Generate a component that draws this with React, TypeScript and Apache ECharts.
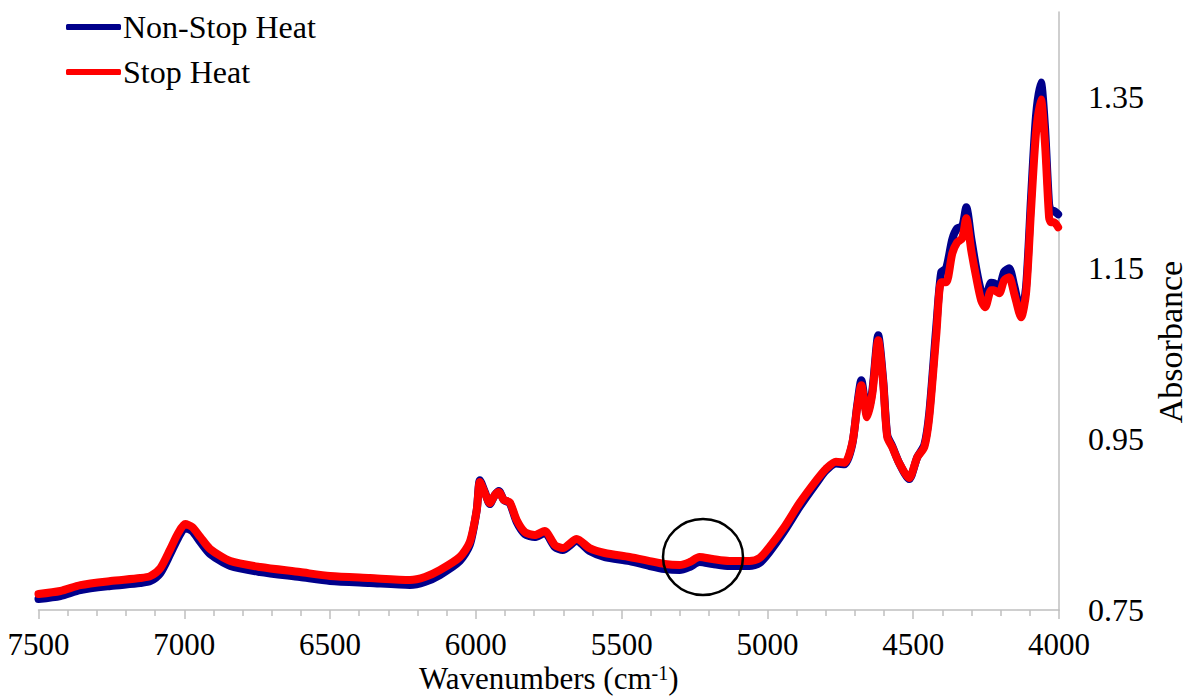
import React, { useEffect, useRef } from "react";
import * as echarts from "echarts";

const wavenumbers = [
  7500, 7425, 7356, 7253, 7151, 7116, 7082, 7048, 7021, 6997, 6973, 6945, 6911, 6842, 6740, 6603, 6500, 6363, 6226, 6175,
  6123, 6055, 6021, 5997, 5986, 5969, 5952, 5935, 5921, 5904, 5884, 5860, 5832, 5798, 5764, 5729, 5702, 5654, 5610, 5558,
  5473, 5404, 5353, 5301, 5267, 5233, 5188, 5130, 5062, 5027, 4993, 4942, 4890, 4832, 4800, 4765, 4735, 4709, 4692, 4678, 4658,
  4640, 4620, 4603, 4589, 4572, 4548, 4514, 4486, 4462, 4445, 4421, 4404, 4387, 4366, 4349, 4332, 4318, 4301, 4284, 4267,
  4253, 4233, 4223, 4205, 4188, 4171, 4154, 4130, 4113, 4096, 4079, 4062, 4048, 4034, 4027, 4017, 4003,
];

const nonStopHeat = [
  0.7629, 0.7664, 0.7734, 0.7781, 0.7816, 0.784, 0.7933, 0.8155, 0.8343, 0.846, 0.8424, 0.8296, 0.8155, 0.8015, 0.7945, 0.7886, 0.784, 0.7816, 0.7793, 0.7828,
  0.791, 0.8073, 0.826, 0.867, 0.902, 0.888, 0.874, 0.8845, 0.8892, 0.8787, 0.8752, 0.853, 0.8389, 0.8354, 0.84, 0.8237, 0.8202, 0.8307, 0.819, 0.812,
  0.8073, 0.8015, 0.798, 0.7968, 0.8003, 0.8061, 0.8038, 0.8015, 0.8015, 0.805, 0.8179, 0.8424, 0.8705, 0.8985, 0.913, 0.9215, 0.9205, 0.9441, 0.9898, 1.019, 0.9781,
  1.0073, 1.0716, 1.019, 0.9547, 0.9418, 0.9219, 0.9032, 0.9289, 0.943, 0.9804, 1.081, 1.1453, 1.15, 1.184, 1.1968, 1.199, 1.2214, 1.185, 1.15, 1.123,
  1.115, 1.133, 1.1325, 1.129, 1.146, 1.15, 1.13, 1.0975, 1.128, 1.232, 1.328, 1.3676, 1.315, 1.225, 1.2178, 1.217, 1.2132,
];

const stopHeat = [
  0.7687, 0.7722, 0.7792, 0.7839, 0.7874, 0.7898, 0.7991, 0.8213, 0.8401, 0.8506, 0.8471, 0.8354, 0.8213, 0.8073, 0.8003, 0.7944, 0.7898, 0.7874, 0.7851, 0.7886,
  0.7968, 0.812, 0.8295, 0.867, 0.8997, 0.8868, 0.8751, 0.8845, 0.888, 0.8787, 0.8763, 0.8553, 0.8412, 0.8377, 0.8424, 0.826, 0.8225, 0.833, 0.8225, 0.8167,
  0.812, 0.8073, 0.8038, 0.8026, 0.8061, 0.812, 0.8096, 0.8073, 0.8073, 0.8108, 0.8237, 0.8471, 0.8751, 0.902, 0.915, 0.9235, 0.9225, 0.9453, 0.9874, 1.0132, 0.9757,
  1.0038, 1.0658, 1.0155, 0.9523, 0.9406, 0.9219, 0.9044, 0.9289, 0.9406, 0.9757, 1.0716, 1.1336, 1.1336, 1.1675, 1.1804, 1.1851, 1.2085, 1.1711, 1.1395, 1.1126,
  1.1044, 1.1243, 1.1243, 1.1208, 1.136, 1.1395, 1.1208, 1.0927, 1.1208, 1.2178, 1.3079, 1.3477, 1.2962, 1.2096, 1.2038, 1.2038, 1.198,
];

const yTickValues = [0.75, 0.95, 1.15, 1.35];

const FONT = "Liberation Serif";

export default function App() {
  const ref = useRef<HTMLDivElement>(null);

  useEffect(() => {
    if (!ref.current) return;
    const chart = echarts.init(ref.current, null, { renderer: "svg" });
    const pairs = (vals: number[]) => wavenumbers.map((w, i) => [w, vals[i]]);
    chart.setOption({
      animation: false,
      backgroundColor: "#ffffff",
      textStyle: { fontFamily: FONT },
      grid: { left: 38.5, right: 129, top: 12, bottom: 86, outerBoundsMode: "none", containLabel: false },
      legend: {
        orient: "vertical",
        left: 61,
        top: 6,
        itemWidth: 55,
        itemHeight: 6,
        itemGap: 13,
        icon: "roundRect",
        textStyle: { fontFamily: FONT, fontSize: 32, color: "#000", lineHeight: 32, padding: [0, 0, 0, -3] },
        data: ["Non-Stop Heat", "Stop Heat"],
      },
      xAxis: {
        type: "value",
        min: 4000,
        max: 7500,
        interval: 500,
        inverse: true,
        axisLine: { show: true, lineStyle: { color: "#BFBFBF", width: 1.5 } },
        axisTick: { show: true, length: 9, lineStyle: { color: "#BFBFBF", width: 1.5 } },
        minorTick: { show: true, splitNumber: 5, length: 6, lineStyle: { color: "#BFBFBF", width: 1.5 } },
        splitLine: { show: false },
        axisLabel: {
          fontFamily: FONT,
          fontSize: 31,
          lineHeight: 30,
          color: "#000",
          margin: 19,
          formatter: (v: number) => String(v),
        },
        name: "{a|Wavenumbers (cm}{s|-1}{a|)}",
        nameLocation: "middle",
        nameGap: 53,
        nameMoveOverlap: false,
        nameTextStyle: {
          lineHeight: 30,
          rich: {
            a: { fontFamily: FONT, fontSize: 31, color: "#000", lineHeight: 30 },
            s: { fontFamily: FONT, fontSize: 20, color: "#000", lineHeight: 20, verticalAlign: "top" },
          },
        },
      },
      yAxis: {
        type: "value",
        position: "right",
        min: 0.75,
        max: 1.45,
        axisLine: { show: true, lineStyle: { color: "#BFBFBF", width: 1.5 } },
        axisTick: { show: false },
        splitLine: { show: false },
        axisLabel: {
          fontFamily: FONT,
          fontSize: 32,
          color: "#000",
          margin: 29,
          customValues: yTickValues,
          formatter: (v: number) => v.toFixed(2),
        },
      },
      series: [
        {
          name: "Non-Stop Heat",
          type: "line",
          data: pairs(nonStopHeat),
          showSymbol: false,
          smooth: 0.25,
          lineStyle: { color: "#00008B", width: 8, cap: "round", join: "round" },
          itemStyle: { color: "#00008B" },
        },
        {
          name: "Stop Heat",
          type: "line",
          data: pairs(stopHeat),
          showSymbol: false,
          smooth: 0.25,
          lineStyle: { color: "#FF0000", width: 8, cap: "round", join: "round" },
          itemStyle: { color: "#FF0000" },
        },
      ],
      graphic: [
        {
          type: "ellipse",
          shape: { cx: 703, cy: 557, rx: 40, ry: 38 },
          style: { fill: "none", stroke: "#000", lineWidth: 2.5 },
          z: 100,
        },
        {
          type: "text",
          x: 1170,
          y: 342,
          rotation: Math.PI / 2,
          style: {
            text: "Absorbance",
            fontFamily: FONT,
            fontSize: 34,
            lineHeight: 34,
            fill: "#000",
            align: "center",
            verticalAlign: "middle",
          },
        },
      ],
    });
    return () => chart.dispose();
  }, []);

  return (
    <div
      ref={ref}
      style={{ position: "fixed", left: 0, top: 0, width: 1188, height: 696, background: "#fff" }}
    />
  );
}
